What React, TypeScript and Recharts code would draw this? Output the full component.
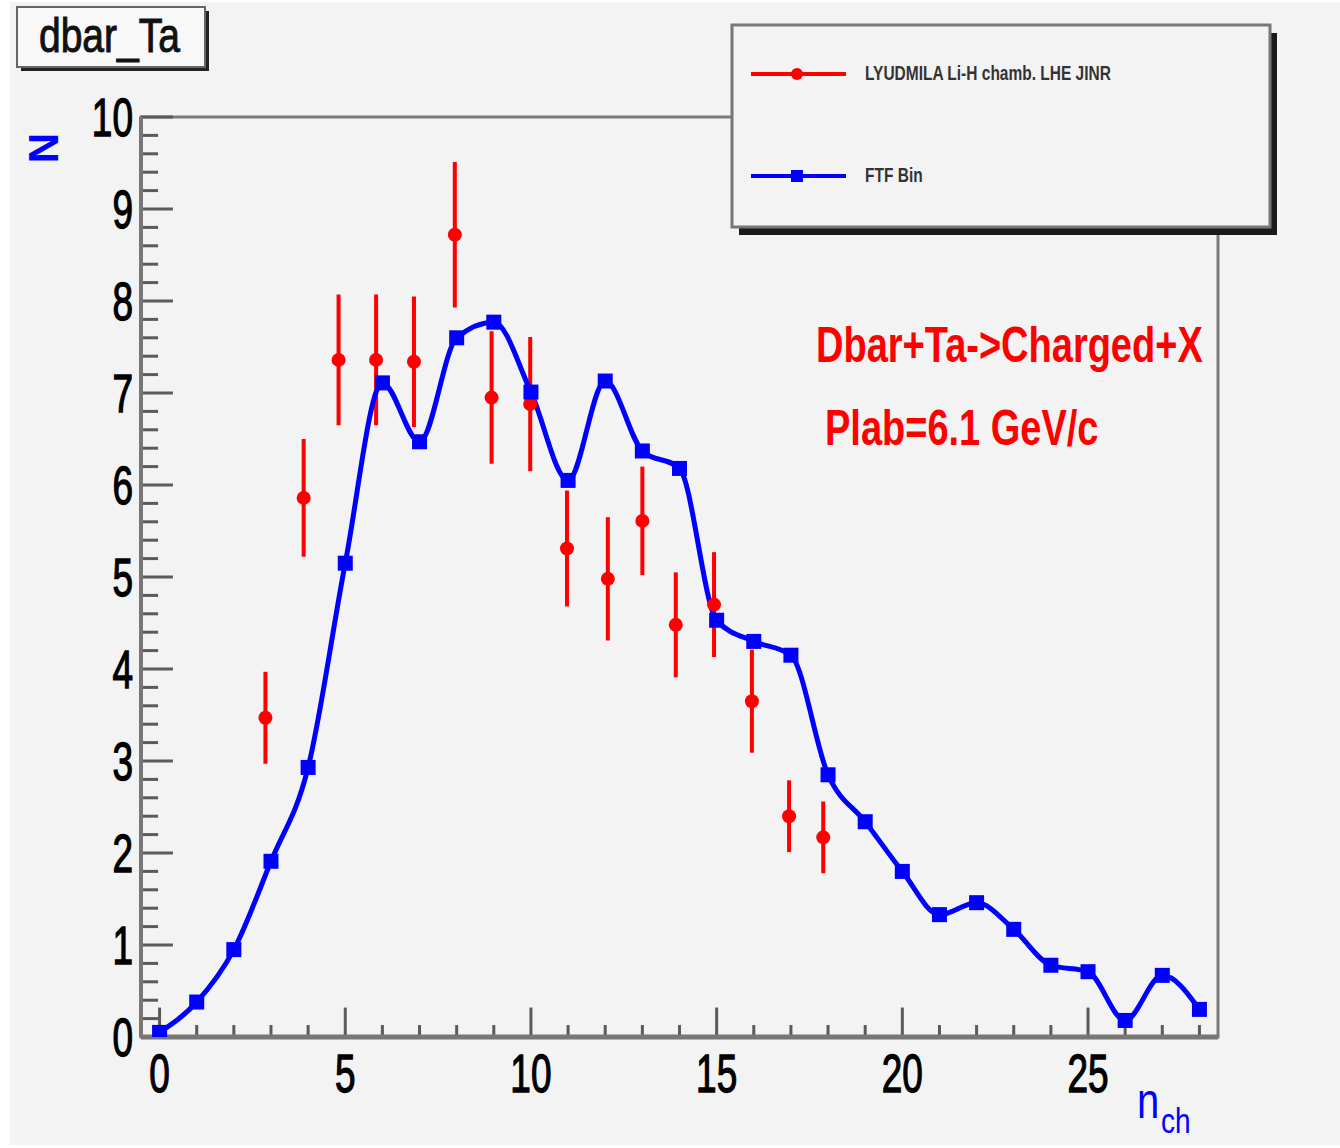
import React from 'react';
import {
  ComposedChart, Line, Scatter, XAxis, YAxis, ErrorBar, ReferenceLine, ReferenceArea,
} from 'recharts';

// FTF Bin (blue curve), one value per n_ch bin
const ftfNch = [0, 1, 2, 3, 4, 5, 6, 7, 8, 9, 10, 11, 12, 13, 14, 15, 16, 17, 18, 19, 20, 21, 22, 23, 24, 25, 26, 27, 28];
const ftfN = [0.05, 0.38, 0.95, 1.91, 2.93, 5.15, 7.11, 6.47, 7.6, 7.77, 7.01, 6.05, 7.13, 6.37, 6.18, 4.53, 4.3, 4.15, 2.85, 2.34, 1.8, 1.33, 1.46, 1.17, 0.78, 0.71, 0.18, 0.67, 0.3];

// LYUDMILA Li-H chamb. LHE JINR (red points with errors)
const expNch = [2.85, 3.88, 4.82, 5.83, 6.85, 7.95, 8.94, 9.98, 10.97, 12.07, 13.0, 13.9, 14.93, 15.95, 16.95, 17.87];
const expN = [3.47, 5.86, 7.36, 7.36, 7.34, 8.72, 6.95, 6.88, 5.31, 4.98, 5.61, 4.48, 4.7, 3.65, 2.4, 2.17];
const expErr = [0.5, 0.64, 0.71, 0.71, 0.71, 0.79, 0.72, 0.73, 0.63, 0.67, 0.59, 0.57, 0.57, 0.56, 0.39, 0.39];

const xTicks = [0, 5, 10, 15, 20, 25];
const yTicks = [0, 1, 2, 3, 4, 5, 6, 7, 8, 9, 10];
const xMinor = Array.from({ length: 29 }, (_, i) => i);
const yMinor = Array.from({ length: 51 }, (_, i) => Math.round(i * 2) / 10);

const ftfData = ftfNch.map((x, i) => ({ x, y: ftfN[i] }));
const expData = expNch.map((x, i) => ({ x, y: expN[i], err: expErr[i] }));

const FONT = '"Liberation Sans", Arial, Helvetica, sans-serif';
const BG = '#f3f3f3';
const TICK = '#5a5a5a';

const YTick = (props: any) => {
  const { y, payload } = props;
  return (
    <text transform={`translate(133 ${y}) scale(1 1.45)`} dy="0.358em" textAnchor="end"
      fontFamily={FONT} fontSize={37} fill="#000" stroke="#000" strokeWidth={0.9}>
      {payload.value}
    </text>
  );
};

const XTick = (props: any) => {
  const { x, payload } = props;
  return (
    <text transform={`translate(${x} 1092) scale(1 1.45)`} textAnchor="middle"
      fontFamily={FONT} fontSize={37} fill="#000" stroke="#000" strokeWidth={0.9}>
      {payload.value}
    </text>
  );
};

const Square = (props: any) => {
  const { cx, cy, index } = props;
  if (cx == null || cy == null) return <g key={index} />;
  return <rect key={index} x={cx - 7.5} y={cy - 7.5} width={15} height={15} fill="#0000ff" />;
};

const Dot = (props: any) => {
  const { cx, cy } = props;
  return <circle cx={cx} cy={cy} r={7} fill="#ff0000" />;
};

export default function App() {
  return (
    <div style={{ position: 'absolute', left: 0, top: 0, width: 1340, height: 1148, background: '#fff' }}>
      <div style={{ position: 'absolute', left: 10, top: 2, width: 1330, height: 1143, background: BG }} />
      <div style={{ position: 'absolute', left: 0, top: 0 }}>
        <ComposedChart width={1340} height={1148} margin={{ top: 117, right: 122, bottom: 71, left: 101 }}>
          <XAxis type="number" dataKey="x" domain={[-0.5, 28.5]} ticks={xTicks} interval={0}
            allowDataOverflow height={40} tickSize={0} tickMargin={0} tick={<XTick />}
            axisLine={false} tickLine={false} />
          <YAxis type="number" dataKey="y" domain={[0, 10]} ticks={yTicks} interval={0}
            allowDataOverflow width={40} tickSize={0} tickMargin={8} tick={<YTick />}
            axisLine={false} tickLine={false} />
          <ReferenceArea x1={-0.5} x2={28.5} y1={0} y2={10} fill={BG} stroke="#7a7a7a" strokeWidth={3} ifOverflow="visible" />
          {xMinor.map((v) => (
            <ReferenceLine key={`xt${v}`} stroke={TICK} strokeWidth={3} ifOverflow="visible"
              segment={[{ x: v, y: 0 }, { x: v, y: v % 5 === 0 ? 0.32 : 0.13 }]} />
          ))}
          {yMinor.map((v) => (
            <ReferenceLine key={`yt${v}`} stroke={TICK} strokeWidth={3} ifOverflow="visible"
              segment={[{ x: -0.5, y: v }, { x: Number.isInteger(v) ? 0.36 : -0.04, y: v }]} />
          ))}
          <ReferenceLine stroke="#777" strokeWidth={5} ifOverflow="visible"
            segment={[{ x: -0.5, y: 0 }, { x: 28.5, y: 0 }]} />
          <ReferenceLine stroke="#777" strokeWidth={4} ifOverflow="visible"
            segment={[{ x: -0.5, y: 0 }, { x: -0.5, y: 10 }]} />
          <Scatter name="LYUDMILA Li-H chamb. LHE JINR" data={expData} dataKey="y" fill="#ff0000"
            shape={<Dot />} isAnimationActive={false}>
            <ErrorBar dataKey="err" direction="y" width={0} stroke="#ff0000" strokeWidth={4} isAnimationActive={false} />
          </Scatter>
          <Line name="FTF Bin" data={ftfData} dataKey="y" type="monotone" stroke="#0000ff" strokeWidth={5}
            dot={<Square />} activeDot={false} isAnimationActive={false} />
        </ComposedChart>
      </div>
      <svg width={1340} height={1148} style={{ position: 'absolute', left: 0, top: 0, pointerEvents: 'none' }}>
        {/* title box */}
        <rect x={21} y={11} width={188} height={60} fill="#222" />
        <rect x={17} y={7} width={188} height={60} fill="#f8f8f8" stroke="#666" strokeWidth={2} />
        <text transform="translate(39 52) scale(1 1.25)" fontFamily={FONT} fontSize={39} fill="#111"
          stroke="#111" strokeWidth={0.8}>dbar_Ta</text>

        {/* legend */}
        <rect x={739} y={33} width={538} height={202} fill="#1a1a1a" />
        <rect x={732} y={25} width={538} height={202} fill={BG} stroke="#777" strokeWidth={3} />
        <line x1={751} x2={846} y1={74} y2={74} stroke="#ff0000" strokeWidth={4} />
        <circle cx={797} cy={74} r={6} fill="#ff0000" />
        <text transform="translate(865 80) scale(1 1.3)" fontFamily={FONT} fontSize={15.5} fontWeight="bold" fill="#333">
          LYUDMILA Li-H chamb. LHE JINR
        </text>
        <line x1={751} x2={846} y1={176} y2={176} stroke="#0000ff" strokeWidth={4} />
        <rect x={791} y={170} width={12} height={12} fill="#0000ff" />
        <text transform="translate(865 182) scale(1 1.3)" fontFamily={FONT} fontSize={15.5} fontWeight="bold" fill="#333">
          FTF Bin
        </text>

        {/* annotations */}
        <text transform="translate(816 362) scale(1 1.3)" fontFamily={FONT} fontSize={38} fontWeight="bold" fill="#ff0000">
          Dbar+Ta-&gt;Charged+X
        </text>
        <text transform="translate(825 445) scale(1 1.3)" fontFamily={FONT} fontSize={38} fontWeight="bold" fill="#ff0000">
          Plab=6.1 GeV/c
        </text>

        {/* axis titles */}
        <text transform="translate(58 148) rotate(-90)" textAnchor="middle" fontFamily={FONT} fontSize={42}
          fontWeight="bold" fill="#0000ff">N</text>
        <text transform="translate(1137 1118) scale(1 1.25)" fontFamily={FONT} fontSize={40} fill="#0000ff">n</text>
        <text transform="translate(1161 1133) scale(1 1.25)" fontFamily={FONT} fontSize={28} fill="#0000ff">ch</text>
      </svg>
    </div>
  );
}
